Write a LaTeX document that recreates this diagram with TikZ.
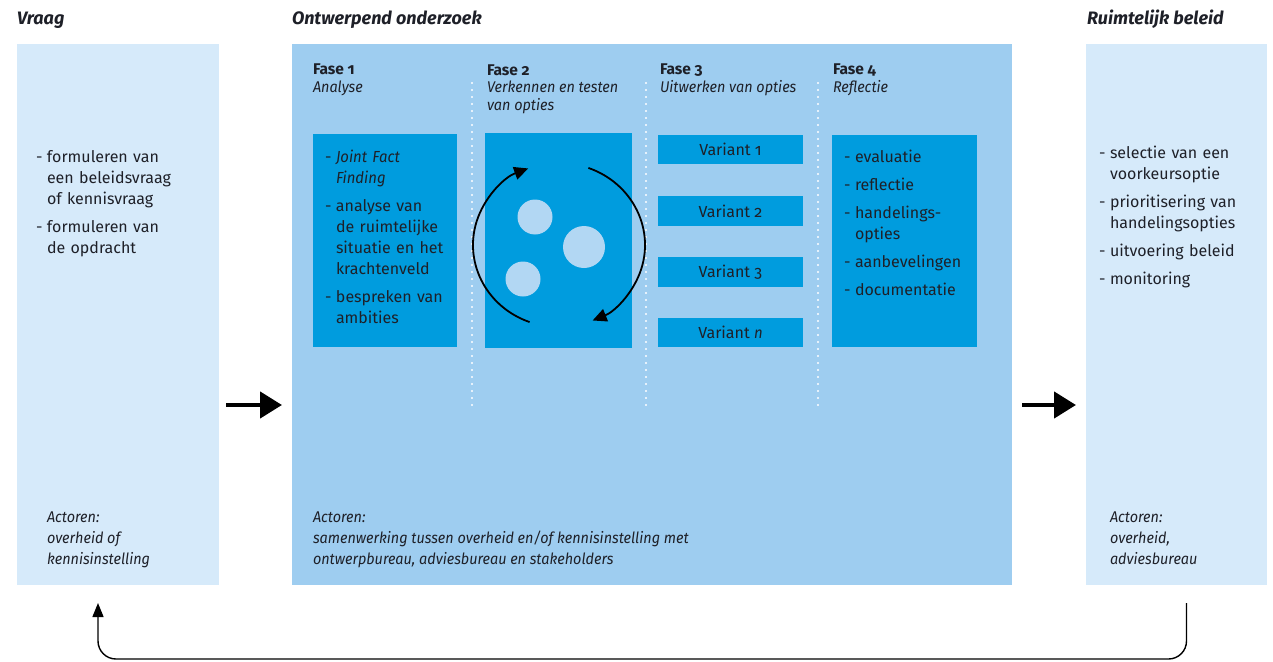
\documentclass[tikz,border=0pt]{standalone}
\usepackage{fontspec}
\setmainfont{Fira Sans}[Numbers=OldStyle, ItalicFeatures={FakeStretch=0.93}]
\usetikzlibrary{arrows.meta}
\definecolor{lightbg}{RGB}{214,234,250}
\definecolor{midbg}{RGB}{158,205,240}
\definecolor{darkbox}{RGB}{0,156,222}
\definecolor{circ}{RGB}{178,215,243}
\definecolor{txt}{RGB}{30,32,40}
\newcommand{\bul}[1]{\hangindent=11pt\hangafter=1\noindent\makebox[11pt][l]{-}#1}
\newcommand{\itemgap}{\par\vspace{7pt}}
\begin{document}
\begin{tikzpicture}[x=1pt,y=-1pt,
  every node/.style={inner sep=0pt, outer sep=0pt, text=txt},
  box/.style={anchor=north west, inner sep=0pt},
  body/.style={anchor=base west, text width=200pt, font=\fontsize{16}{21}\selectfont},
  actor/.style={anchor=base west, align=left, font=\fontsize{15.5}{21}\selectfont\itshape},
  title/.style={anchor=base west, font=\fontsize{18}{20}\selectfont\bfseries\itshape},
  fase/.style={anchor=base west, align=left, font=\fontsize{15.5}{17.5}\selectfont},
  variant/.style={box, fill=darkbox, minimum width=145pt, minimum height=29pt, font=\fontsize{16}{18}\selectfont},
  bigarrow/.style={-{Triangle[length=22pt,width=26pt]}, line width=4.5pt, black},
  cycarrow/.style={-{Triangle[length=14pt,width=13pt]}, line width=1.8pt, black},
  sep/.style={white, line width=2.2pt, dash pattern=on 0pt off 7pt, line cap=round},
  dot/.style={circle, fill=circ, inner sep=0pt}
]
\useasboundingbox (0,0) rectangle (1273,661);
\fill[white] (0,0) rectangle (1273,661);

% titles
\node[title] (t1) at (17,25) {Vraag};
\node[title] (t2) at (292,25) {Ontwerpend onderzoek};
\node[title] (t3) at (1087,25) {Ruimtelijk beleid};

% panels
\node[box, fill=lightbg, minimum width=202pt, minimum height=541pt] (vraag) at (17,44) {};
\node[box, fill=midbg, minimum width=720pt, minimum height=541pt] (ondz) at (292,44) {};
\node[box, fill=lightbg, minimum width=181pt, minimum height=541pt] (beleid) at (1086,44) {};

% separators
\draw[sep] (472,83) -- (472,410);
\draw[sep] (646,83) -- (646,410);
\draw[sep] (818,83) -- (818,410);

% phase headers (base = last line)
\node[fase] (f1) at (313,92) {\bfseries Fase 1\\\itshape Analyse};
\node[fase] (f2) at (487,110) {\bfseries Fase 2\\\itshape Verkennen en testen\\\itshape van opties};
\node[fase] (f3) at (660,92) {\bfseries Fase 3\\\itshape Uitwerken van opties};
\node[fase] (f4) at (833,92) {\bfseries Fase 4\\\itshape Reflectie};

% phase boxes
\node[box, fill=darkbox, minimum width=144pt, minimum height=213pt] (b1) at (313,134) {};
\node[box, fill=darkbox, minimum width=147pt, minimum height=215pt] (b2) at (485,133) {};
\node[variant] (v1) at (658,135) {Variant 1};
\node[variant, minimum height=30pt] (v2) at (658,196) {Variant 2};
\node[variant, minimum height=30pt] (v3) at (658,257) {Variant 3};
\node[variant] (v4) at (658,318) {Variant \textit{n}};
\node[box, fill=darkbox, minimum width=145pt, minimum height=212pt] (b4) at (832,135) {};

% phase box texts
\node[body, text width=132pt] (b1t) at (325,162) {%
\bul{\textit{Joint Fact}\newline\textit{Finding}}\itemgap
\bul{analyse van\newline de ruimtelijke\newline situatie en het\newline krachtenveld}\itemgap
\bul{bespreken van\newline ambities}\par};
\node[body, text width=140pt] (b4t) at (844,162) {%
\bul{evaluatie}\itemgap
\bul{reflectie}\itemgap
\bul{handelings-\newline opties}\itemgap
\bul{aanbevelingen}\itemgap
\bul{documentatie}\par};

% fase 2 graphic
\node[dot, minimum size=35pt] (c1) at (535,217) {};
\node[dot, minimum size=42pt] (c2) at (584,247) {};
\node[dot, minimum size=35pt] (c3) at (523,279) {};
\coordinate (cyc) at (559,245);
\draw[cycarrow] (cyc) ++(110:86 and 82) arc[start angle=110, end angle=249, x radius=86, y radius=82];
\draw[cycarrow] (cyc) ++(-70:86 and 82) arc[start angle=-70, end angle=67, x radius=86, y radius=82];

% side texts
\node[body] (vt) at (36,162) {%
\bul{formuleren van\newline een beleidsvraag\newline of kennisvraag}\itemgap
\bul{formuleren van\newline de opdracht}\par};
\node[body, text width=170pt] (rt) at (1099,158) {%
\bul{selectie van een\newline voorkeursoptie}\itemgap
\bul{prioritisering van\newline handelingsopties}\itemgap
\bul{uitvoering beleid}\itemgap
\bul{monitoring}\par};

% actors (base = last line)
\node[actor] (a1) at (47,564) {Actoren:\\overheid of\\kennisinstelling};
\node[actor] (a2) at (313,564) {Actoren:\\samenwerking tussen overheid en/of kennisinstelling met\\ontwerpbureau, adviesbureau en stakeholders};
\node[actor] (a3) at (1110,564) {Actoren:\\overheid,\\adviesbureau};

% flow arrows
\draw[bigarrow, shorten <=7pt, shorten >=10pt] ([yshift=-90.5pt]vraag.east) -- ([yshift=-90.5pt]ondz.west);
\draw[bigarrow, shorten <=10pt, shorten >=10pt] ([yshift=-90.5pt]ondz.east) -- ([yshift=-90.5pt]beleid.west);

% return arrow
\draw[-{Triangle[length=14pt,width=11pt]}, line width=1.4pt, rounded corners=18pt, shorten <=18pt, shorten >=18pt]
  ([xshift=10pt]beleid.south) -- ++(0,74) -| ([xshift=-20pt]vraag.south);
\end{tikzpicture}
\end{document}
